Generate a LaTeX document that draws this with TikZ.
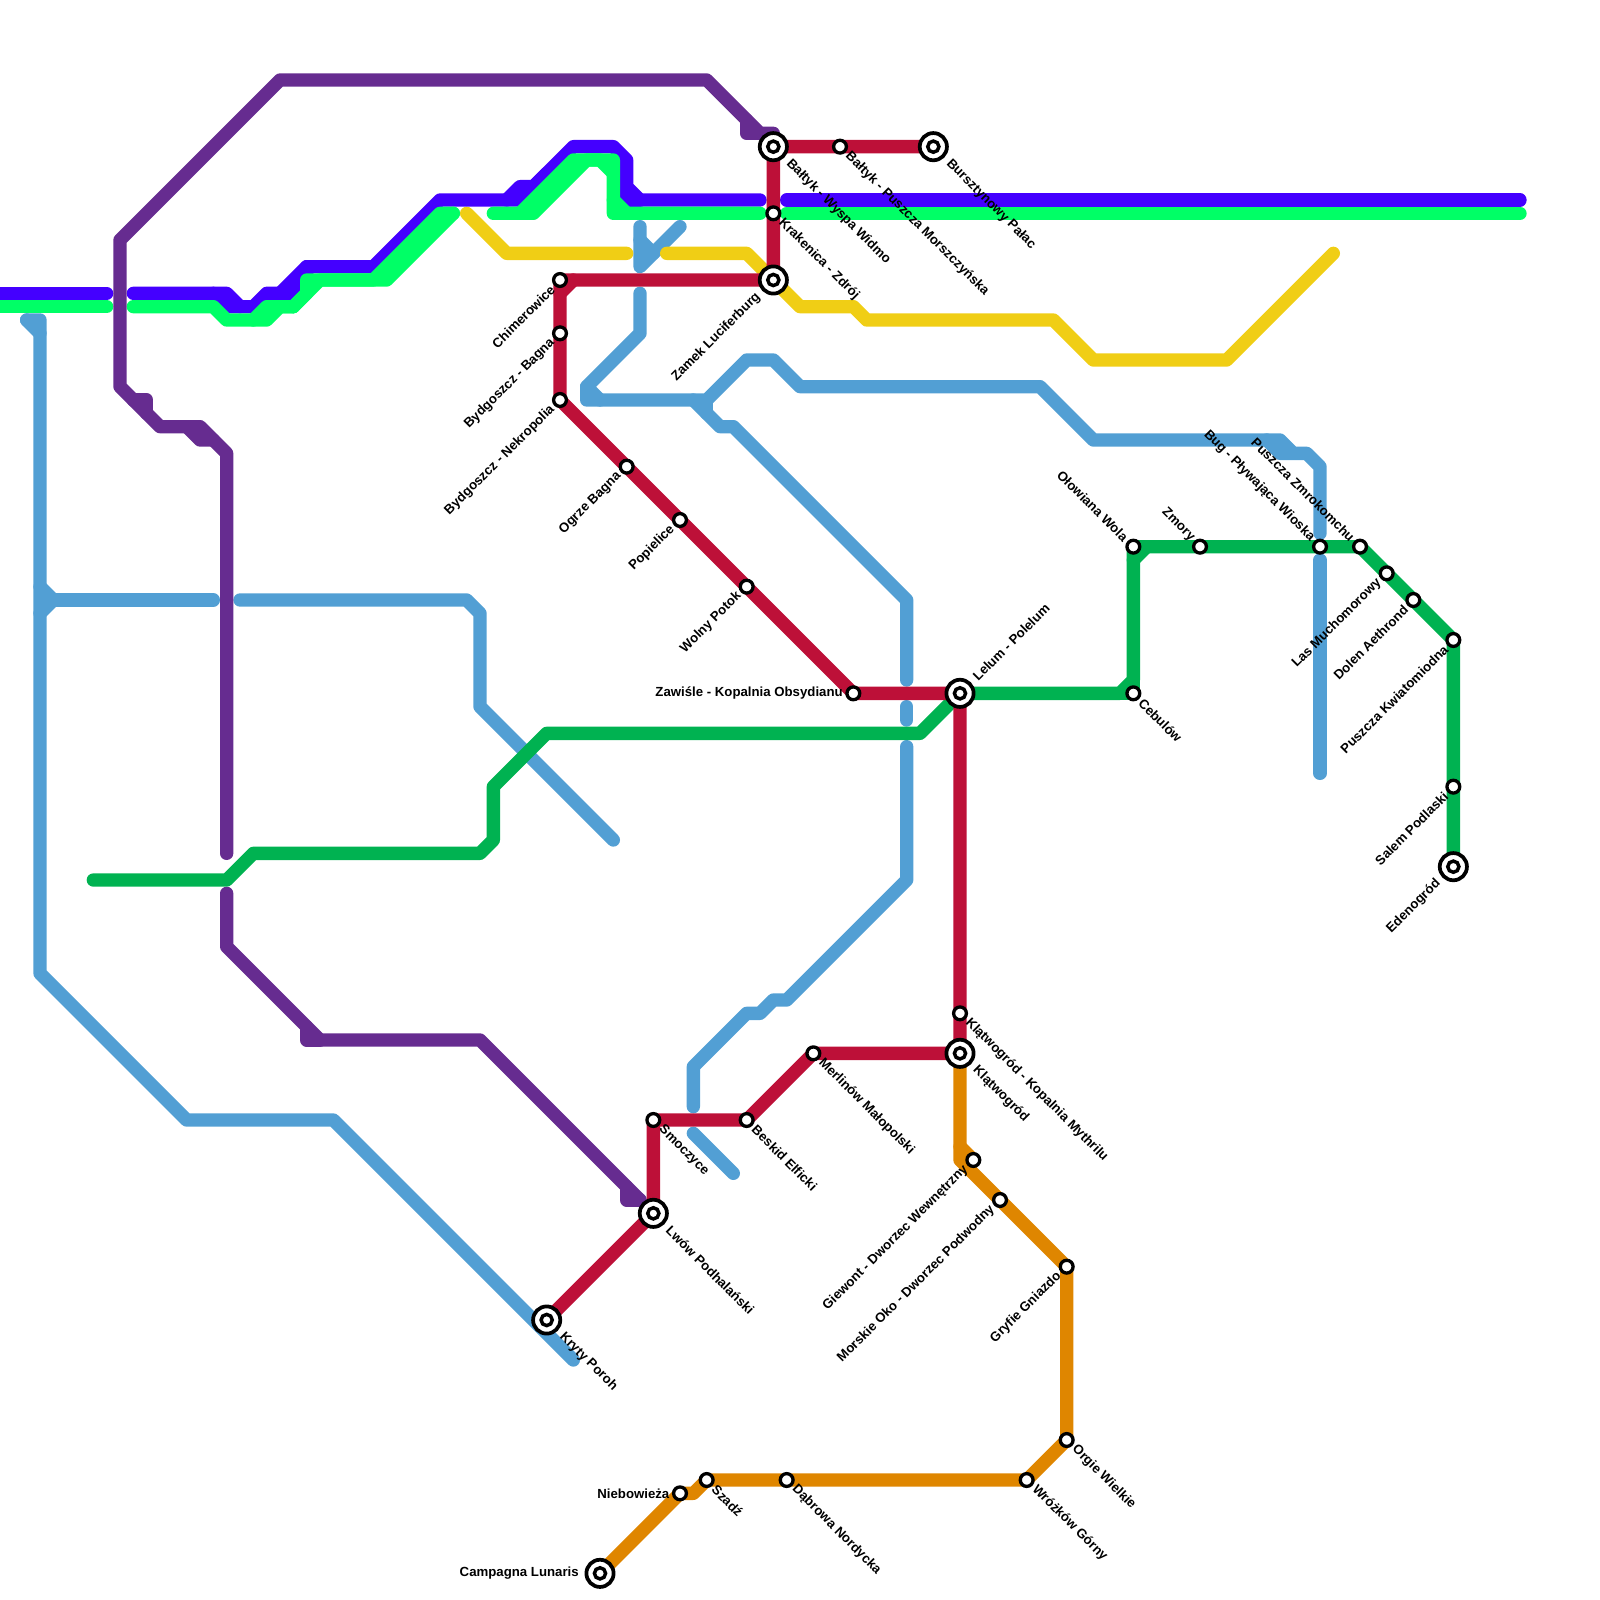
\documentclass[tikz,border=0pt]{standalone}
\usepackage{fontspec}
\setmainfont{Liberation Sans}
\usepackage{tikz}

\definecolor{lnViolet}{HTML}{4400FF}
\definecolor{lnSpring}{HTML}{00FF66}
\definecolor{lnYellow}{HTML}{F0CE15}
\definecolor{lnPurple}{HTML}{662C90}
\definecolor{lnGreen}{HTML}{00B251}
\definecolor{lnRed}{HTML}{BD1038}
\definecolor{lnOrange}{HTML}{DF8600}
\definecolor{lnBlue}{HTML}{529FD4}

\tikzset{
  metro/.style={line width=2.5mm, line cap=round, line join=round},
  stop/.style={circle, draw=black, fill=white, line width=.62mm, minimum size=2.4mm, inner sep=0pt},
  term/.style={circle, draw=black, fill=white, line width=.7mm, minimum size=5.1mm, inner sep=0pt,
    path picture={\draw[line width=.65mm] (path picture bounding box.center) circle (1.05mm);}},
  lbl/.style={font=\bfseries\fontsize{7.05}{8}\selectfont, text=black, inner ysep=0pt, outer sep=0pt, inner xsep=2mm},
  far/.style={inner xsep=4mm},
  lblSE/.style={lbl, anchor=west, rotate=-45},
  lblNE/.style={lbl, anchor=west, rotate=45},
  lblSW/.style={lbl, anchor=east, rotate=45},
  lblNW/.style={lbl, anchor=east, rotate=-45},
  lblW/.style={lbl, anchor=east}
}

\begin{document}
\begin{tikzpicture}[x=2.5mm,y=-2.5mm]

  % ====== 1) canvas ======
  \useasboundingbox (0,0) rectangle (120,120);

  % ====== 2) stations ======
  \coordinate (wyspa) at (58,11);
  \coordinate (morsz) at (63,11);
  \coordinate (burs) at (70,11);
  \coordinate (krak) at (58,16);
  \coordinate (zamek) at (58,21);
  \coordinate (chim) at (42,21);
  \coordinate (bagna) at (42,25);
  \coordinate (nekro) at (42,30);
  \coordinate (ogrze) at (47,35);
  \coordinate (popie) at (51,39);
  \coordinate (wolny) at (56,44);
  \coordinate (zawis) at (64,52);
  \coordinate (lelum) at (72,52);
  \coordinate (myth) at (72,76);
  \coordinate (klat) at (72,79);
  \coordinate (merl) at (61,79);
  \coordinate (besk) at (56,84);
  \coordinate (smoc) at (49,84);
  \coordinate (lwow) at (49,91);
  \coordinate (kryty) at (41,99);

  \coordinate (giew) at (73,87);
  \coordinate (mors) at (75,90);
  \coordinate (gryf) at (80,95);
  \coordinate (orgie) at (80,108);
  \coordinate (wroz) at (77,111);
  \coordinate (dabr) at (59,111);
  \coordinate (szad) at (53,111);
  \coordinate (nieb) at (51,112);
  \coordinate (camp) at (45,118);

  \coordinate (cebu) at (85,52);
  \coordinate (olow) at (85,41);
  \coordinate (zmor) at (90,41);
  \coordinate (bug) at (99,41);
  \coordinate (zmro) at (102,41);
  \coordinate (much) at (104,43);
  \coordinate (dolen) at (106,45);
  \coordinate (kwia) at (109,48);
  \coordinate (salem) at (109,59);
  \coordinate (eden) at (109,65);

  % ====== 3) blue line ======
  \draw[metro, lnBlue] (2,24) -- (3,24) -- (3,73) -- (14,84) -- (25,84) -- (43,102);
  \draw[metro, lnBlue] (2,24) -- (3,25);
  \draw[metro, lnBlue] (3,44) -- (4,45) -- (3,46);
  \draw[metro, lnBlue] (4,45) -- (16,45);
  \draw[metro, lnBlue] (18,45) -- (35,45) -- (36,46) -- (36,53) -- (46,63);
  \draw[metro, lnBlue] (48,17) -- (48,20) -- (51,17);
  \draw[metro, lnBlue] (48,18) -- (49,19);
  \draw[metro, lnBlue] (48,22) -- (48,25) -- (44,29) -- (44,30) -- (53,30) -- (56,27) -- (58,27) -- (60,29) -- (78,29) -- (82,33) -- (96,33) -- (97,34) -- (98,34) -- (99,35) -- (99,40);
  \draw[metro, lnBlue] (44,29) -- (45,30);
  \draw[metro, lnBlue] (95,33) -- (96,34) -- (97,34);
  \draw[metro, lnBlue] (99,42) -- (99,58);
  \draw[metro, lnBlue] (52,30) -- (54,32) -- (55,32) -- (68,45) -- (68,51);
  \draw[metro, lnBlue] (53,30) -- (53,31);
  \draw[metro, lnBlue] (68,53) -- (68,54);
  \draw[metro, lnBlue] (68,56) -- (68,66) -- (59,75) -- (58,75) -- (57,76) -- (56,76) -- (52,80) -- (52,83);
  \draw[metro, lnBlue] (52,85) -- (55,88);

  % ====== 4) yellow line ======
  \draw[metro, lnYellow] (35,16) -- (38,19) -- (47,19);
  \draw[metro, lnYellow] (50,19) -- (56,19) -- (60,23) -- (64,23) -- (65,24) -- (79,24) -- (82,27) -- (92,27) -- (100,19);

  % ====== 5) violet line ======
  \draw[metro, lnViolet] (-1,22) -- (8,22);
  \draw[metro, lnViolet] (10,22) -- (17,22) -- (18,23) -- (19,23) -- (20,22) -- (22,22) -- (23,21) -- (23,20) -- (28,20) -- (33,15) -- (39,15) -- (43,11) -- (46,11) -- (47,12) -- (47,14) -- (48,15) -- (57,15);
  \draw[metro, lnViolet] (16,22) -- (17,23) -- (18,23);
  \draw[metro, lnViolet] (21,22) -- (23,20);
  \draw[metro, lnViolet] (38,15) -- (39,14) -- (40,14) -- (41,13);
  \draw[metro, lnViolet] (47,14) -- (47,15) -- (48,15);
  \draw[metro, lnViolet] (59,15) -- (114,15);

  % ====== 6) spring green line ======
  \draw[metro, lnSpring] (-1,23) -- (8,23);
  \draw[metro, lnSpring] (10,23) -- (16,23) -- (17,24) -- (20,24) -- (21,23) -- (22,23) -- (24,21) -- (29,21) -- (34,16);
  \draw[metro, lnSpring] (19,24) -- (20,23) -- (22,23);
  \draw[metro, lnSpring] (22,23) -- (23,22) -- (23,21) -- (28,21) -- (33,16) -- (34,16);
  \draw[metro, lnSpring] (37,16) -- (40,16) -- (44,12) -- (45,12) -- (46,13);
  \draw[metro, lnSpring] (39,16) -- (43,12) -- (46,12) -- (46,16) -- (57,16);
  \draw[metro, lnSpring] (46,15) -- (47,16);
  \draw[metro, lnSpring] (59,16) -- (114,16);

  % ====== 7) purple line ======
  \draw[metro, lnPurple] (58,10) -- (57,10) -- (53,6) -- (21,6) -- (9,18) -- (9,29) -- (12,32) -- (15,32) -- (17,34) -- (17,64);
  \draw[metro, lnPurple] (56,9) -- (56,10) -- (57,10);
  \draw[metro, lnPurple] (10,30) -- (11,30) -- (11,31);
  \draw[metro, lnPurple] (14,32) -- (15,33) -- (16,33);
  \draw[metro, lnPurple] (17,67) -- (17,71) -- (24,78) -- (36,78) -- (48,90);
  \draw[metro, lnPurple] (23,77) -- (23,78) -- (24,78);
  \draw[metro, lnPurple] (47,89) -- (47,90) -- (48,90);

  % ====== 8) green line ======
  \draw[metro, lnGreen] (7,66) -- (17,66) -- (19,64) -- (36,64) -- (37,63) -- (37,59) -- (41,55) -- (69,55) -- (lelum) -- (84,52) -- (85,51) -- (olow) -- (zmro) -- (kwia) -- (eden);
  \draw[metro, lnGreen] (84,52) -- (cebu) -- (85,51);
  \draw[metro, lnGreen] (85,42) -- (86,41);

  % ====== 9) red line ======
  \draw[metro, lnRed] (burs) -- (wyspa) -- (zamek) -- (chim) -- (nekro) -- (zawis) -- (lelum) -- (klat) -- (merl) -- (besk) -- (smoc) -- (lwow) -- (kryty);
  \draw[metro, lnRed] (43,21) -- (42,22);

  % ====== 10) orange line ======
  \draw[metro, lnOrange] (klat) -- (72,87) -- (gryf) -- (orgie) -- (wroz) -- (szad) -- (52,112) -- (nieb) -- (camp);
  \draw[metro, lnOrange] (72,86) -- (giew);

  % ====== 11) station marks and names ======
  \node[term] (sWyspa) at (wyspa) {};
  \node[lblSE, far] (tWyspa) at (wyspa) {Bałtyk - Wyspa Widmo};
  \node[stop] (sMorsz) at (morsz) {};
  \node[lblSE] (tMorsz) at (morsz) {Bałtyk - Puszcza Morszczyńska};
  \node[term] (sBurs) at (burs) {};
  \node[lblSE, far] (tBurs) at (burs) {Bursztynowy Pałac};
  \node[stop] (sKrak) at (krak) {};
  \node[lblSE] (tKrak) at (krak) {Krakenica - Zdrój};
  \node[term] (sZamek) at (zamek) {};
  \node[lblSW, far] (tZamek) at (zamek) {Zamek Luciferburg};
  \node[stop] (sChim) at (chim) {};
  \node[lblSW] (tChim) at (chim) {Chimerowice};
  \node[stop] (sBagna) at (bagna) {};
  \node[lblSW] (tBagna) at (bagna) {Bydgoszcz - Bagna};
  \node[stop] (sNekro) at (nekro) {};
  \node[lblSW] (tNekro) at (nekro) {Bydgoszcz - Nekropolia};
  \node[stop] (sOgrze) at (ogrze) {};
  \node[lblSW] (tOgrze) at (ogrze) {Ogrze Bagna};
  \node[stop] (sPopie) at (popie) {};
  \node[lblSW] (tPopie) at (popie) {Popielice};
  \node[stop] (sWolny) at (wolny) {};
  \node[lblSW] (tWolny) at (wolny) {Wolny Potok};
  \node[stop] (sZawis) at (zawis) {};
  \node[lblW] (tZawis) at (zawis) {Zawiśle - Kopalnia Obsydianu};
  \node[term] (sLelum) at (lelum) {};
  \node[lblNE, far] (tLelum) at (lelum) {Lelum - Polelum};
  \node[stop] (sMyth) at (myth) {};
  \node[lblSE] (tMyth) at (myth) {Klątwogród - Kopalnia Mythrilu};
  \node[term] (sKlat) at (klat) {};
  \node[lblSE, far] (tKlat) at (klat) {Klątwogród};
  \node[stop] (sMerl) at (merl) {};
  \node[lblSE] (tMerl) at (merl) {Merlinów Małopolski};
  \node[stop] (sBesk) at (besk) {};
  \node[lblSE] (tBesk) at (besk) {Beskid Elficki};
  \node[stop] (sSmoc) at (smoc) {};
  \node[lblSE] (tSmoc) at (smoc) {Smoczyce};
  \node[term] (sLwow) at (lwow) {};
  \node[lblSE, far] (tLwow) at (lwow) {Lwów Podhalański};
  \node[term] (sKryty) at (kryty) {};
  \node[lblSE, far] (tKryty) at (kryty) {Kryty Poroh};

  \node[stop] (sGiew) at (giew) {};
  \node[lblSW] (tGiew) at (giew) {Giewont - Dworzec Wewnętrzny};
  \node[stop] (sMors) at (mors) {};
  \node[lblSW] (tMors) at (mors) {Morskie Oko - Dworzec Podwodny};
  \node[stop] (sGryf) at (gryf) {};
  \node[lblSW] (tGryf) at (gryf) {Gryfie Gniazdo};
  \node[stop] (sOrgie) at (orgie) {};
  \node[lblSE] (tOrgie) at (orgie) {Orgie Wielkie};
  \node[stop] (sWroz) at (wroz) {};
  \node[lblSE] (tWroz) at (wroz) {Wróżków Górny};
  \node[stop] (sDabr) at (dabr) {};
  \node[lblSE] (tDabr) at (dabr) {Dąbrowa Nordycka};
  \node[stop] (sSzad) at (szad) {};
  \node[lblSE] (tSzad) at (szad) {Szadź};
  \node[stop] (sNieb) at (nieb) {};
  \node[lblW] (tNieb) at (nieb) {Niebowieża};
  \node[term] (sCamp) at (camp) {};
  \node[lblW, far] (tCamp) at (camp) {Campagna Lunaris};

  \node[stop] (sCebu) at (cebu) {};
  \node[lblSE] (tCebu) at (cebu) {Cebulów};
  \node[stop] (sOlow) at (olow) {};
  \node[lblNW] (tOlow) at (olow) {Ołowiana Wola};
  \node[stop] (sZmor) at (zmor) {};
  \node[lblNW] (tZmor) at (zmor) {Zmory};
  \node[stop] (sBug) at (bug) {};
  \node[lblNW] (tBug) at (bug) {Bug - Pływająca Wioska};
  \node[stop] (sZmro) at (zmro) {};
  \node[lblNW] (tZmro) at (zmro) {Puszcza Zmrokomchu};
  \node[stop] (sMuch) at (much) {};
  \node[lblSW] (tMuch) at (much) {Las Muchomorowy};
  \node[stop] (sDolen) at (dolen) {};
  \node[lblSW] (tDolen) at (dolen) {Dolen Aethrond};
  \node[stop] (sKwia) at (kwia) {};
  \node[lblSW] (tKwia) at (kwia) {Puszcza Kwiatomiodna};
  \node[stop] (sSalem) at (salem) {};
  \node[lblSW] (tSalem) at (salem) {Salem Podlaski};
  \node[term] (sEden) at (eden) {};
  \node[lblSW, far] (tEden) at (eden) {Edenogród};

\end{tikzpicture}
\end{document}
